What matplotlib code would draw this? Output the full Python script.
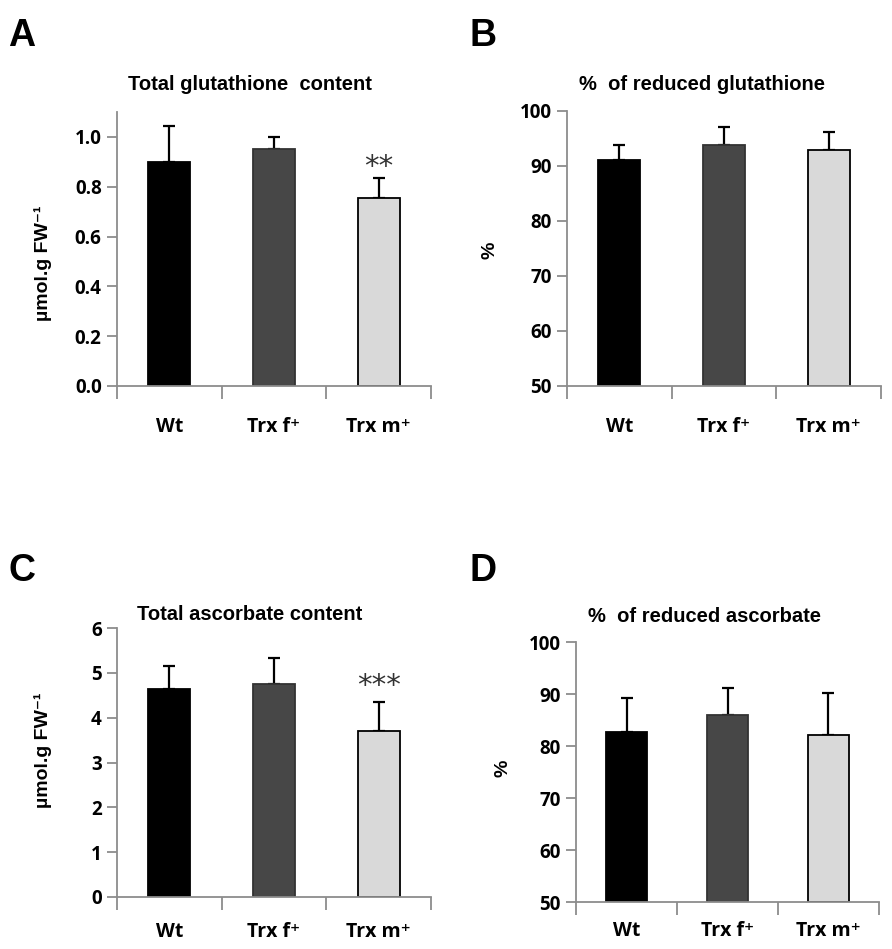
import matplotlib
matplotlib.use("Agg")
import matplotlib.pyplot as plt
import numpy as np

categories = ["Wt", "Trx f\u207a", "Trx m\u207a"]

gsh_total = [0.90, 0.951, 0.756]
gsh_total_err = [0.144, 0.049, 0.079]

gsh_red = [91.0, 93.9, 92.9]
gsh_red_err = [2.8, 3.2, 3.3]

asc_total = [4.65, 4.76, 3.71]
asc_total_err = [0.50, 0.56, 0.65]

asc_red = [82.7, 86.0, 82.2]
asc_red_err = [6.5, 5.2, 8.0]

bar_colors = ["#000000", "#474747", "#d9d9d9"]
edge_colors = ["#000000", "#333333", "#000000"]

W, H = 892, 949
fig = plt.figure(figsize=(W / 100, H / 100), dpi=100)

TICKFONT = ["Open Sans", "DejaVu Sans"]
TXTFONT = ["Liberation Sans", "DejaVu Sans"]
AXCOL = "#8c8c8c"


def px_axes(l, r, t, b):
    return fig.add_axes([l / W, 1 - b / H, (r - l) / W, (b - t) / H])


def panel(ax, vals, errs, ylim, yticks, yfmt, xpad, stars=None, star_off=0):
    x = np.arange(len(vals))
    base = ylim[0]
    heights = [v - base for v in vals]
    ax.bar(x, heights, bottom=base, width=0.4, color=bar_colors,
           edgecolor=edge_colors, linewidth=1.3, zorder=2)
    ax.errorbar(x, vals, yerr=[np.zeros(len(errs)), errs], fmt="none",
                ecolor="#000000", elinewidth=1.6, capsize=4.5, capthick=1.6,
                zorder=1)
    ax.set_xlim(-0.5, len(vals) - 0.5)
    ax.set_ylim(*ylim)
    for s in ["top", "right"]:
        ax.spines[s].set_visible(False)
    for s in ["left", "bottom"]:
        ax.spines[s].set_color(AXCOL)
        ax.spines[s].set_linewidth(1.3)
    ax.set_yticks(yticks)
    ax.set_yticklabels([yfmt.format(v) for v in yticks],
                       fontfamily=TICKFONT, fontweight="bold", fontsize=13.5)
    ax.tick_params(axis="y", direction="out", length=7, width=1.3,
                   color=AXCOL, pad=4)
    ax.set_xticks(x)
    ax.set_xticklabels(categories, fontfamily=TICKFONT, fontweight="bold",
                       fontsize=14)
    ax.tick_params(axis="x", which="major", length=0, pad=xpad)
    ax.set_xticks(np.arange(-0.5, len(vals), 1.0), minor=True)
    ax.tick_params(axis="x", which="minor", direction="out", length=9,
                   width=1.3, color=AXCOL)
    if stars is not None:
        i, s = stars
        ax.annotate(s, xy=(i, vals[i] + errs[i]), xytext=(0, star_off),
                    textcoords="offset points", ha="center", va="center",
                    fontsize=21, color="#333333", fontfamily=["DejaVu Sans"])


axA = px_axes(117, 431, 112, 386)
panel(axA, gsh_total, gsh_total_err, (0, 1.1), [0, 0.2, 0.4, 0.6, 0.8, 1.0],
      "{:.1f}", xpad=22, stars=(2, "**"), star_off=8)
axB = px_axes(567, 881, 111, 386)
panel(axB, gsh_red, gsh_red_err, (50, 100), [50, 60, 70, 80, 90, 100], "{:.0f}",
      xpad=22)
axC = px_axes(117, 431, 628, 897)
panel(axC, asc_total, asc_total_err, (0, 6), [0, 1, 2, 3, 4, 5, 6], "{:.0f}",
      xpad=18, stars=(2, "***"), star_off=11)
axD = px_axes(576, 879, 642, 902)
panel(axD, asc_red, asc_red_err, (50, 100), [50, 60, 70, 80, 90, 100], "{:.0f}",
      xpad=14)

def ftext(px, py, s, **kw):
    fig.text(px / W, 1 - py / H, s, **kw)

tkw = dict(fontfamily=TXTFONT, fontweight="bold", fontsize=14.5,
           ha="center", va="center")
ftext(250, 84, "Total glutathione  content", **tkw)
ftext(702, 85, "%  of reduced glutathione", **tkw)
ftext(250, 615, "Total ascorbate content", **tkw)
ftext(705, 616, "%  of reduced ascorbate", **tkw)

ykw = dict(fontfamily=TXTFONT, fontweight="bold", fontsize=14,
           ha="center", va="center", rotation=90)
ftext(43, 263, "µmol.g FW\u207b\u00b9", **ykw)
ftext(490, 250, "%", **ykw)
ftext(43, 750, "µmol.g FW\u207b\u00b9", **ykw)
ftext(503, 768, "%", **ykw)

lkw = dict(fontfamily=TXTFONT, fontweight="bold", fontsize=27,
           ha="left", va="baseline")
ftext(8, 46, "A", **lkw)
ftext(470, 46, "B", **lkw)
ftext(8, 581, "C", **lkw)
ftext(470, 581, "D", **lkw)

fig.savefig("out.png", dpi=100)
